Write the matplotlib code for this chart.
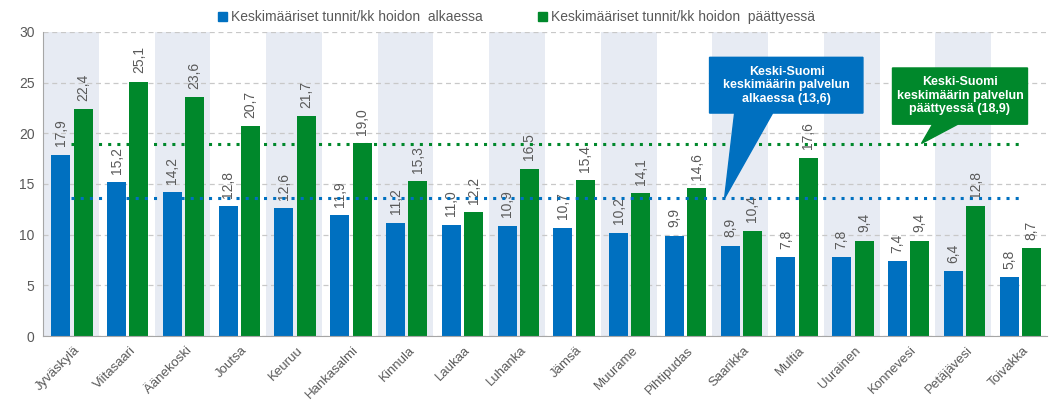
import matplotlib
matplotlib.use('Agg')
import matplotlib.pyplot as plt
import matplotlib.transforms as mtrans
from matplotlib.patches import Patch, Polygon
import numpy as np

plt.rcParams['font.family'] = ['Liberation Sans', 'DejaVu Sans']

kunnat = ['Jyväskylä', 'Viitasaari', 'Äänekoski', 'Joutsa', 'Keuruu', 'Hankasalmi',
          'Kinnula', 'Laukaa', 'Luhanka', 'Jämsä', 'Muurame', 'Pihtipudas',
          'Saarikka', 'Multia', 'Uurainen', 'Konnevesi', 'Petäjävesi', 'Toivakka']
alkaessa = [17.9, 15.2, 14.2, 12.8, 12.6, 11.9, 11.2, 11.0, 10.9, 10.7,
            10.2, 9.9, 8.9, 7.8, 7.8, 7.4, 6.4, 5.8]
paattyessa = [22.4, 25.1, 23.6, 20.7, 21.7, 19.0, 15.3, 12.2, 16.5, 15.4,
              14.1, 14.6, 10.4, 17.6, 9.4, 9.4, 12.8, 8.7]
ka_alku = 13.6
ka_loppu = 18.9

sininen = '#0070c0'
vihrea = '#00882b'
harmaa = '#595959'

fig = plt.figure(figsize=(10.5, 4.05), dpi=100)
ax = fig.add_axes([43 / 1050, 69 / 405, 1004 / 1050, 304 / 405])

x = np.arange(len(kunnat))
for i in x[::2]:
    ax.axvspan(i - 0.5, i + 0.5, color='#e7ebf3', zorder=0, lw=0)

w = 0.34
b1 = ax.bar(x - 0.18, alkaessa, w, color=sininen, zorder=2)
b2 = ax.bar(x + 0.22, paattyessa, w, color=vihrea, zorder=2)

for bars, vals in ((b1, alkaessa), (b2, paattyessa)):
    for r, v in zip(bars, vals):
        ax.annotate(f'{v:.1f}'.replace('.', ','), (r.get_x() + r.get_width() / 2, v),
                    xytext=(0, 6), textcoords='offset points', rotation=90,
                    ha='center', va='bottom', fontsize=10, color=harmaa, zorder=3)

# keskiarvoviivat
ax.plot([0, 17], [ka_alku, ka_alku], color=sininen, lw=2.2, ls=(0, (1, 2)), zorder=4)
ax.plot([0, 17], [ka_loppu, ka_loppu], color=vihrea, lw=2.2, ls=(0, (1, 2)), zorder=4)

# puhekuplat
kupla1 = [(11.45, 27.5), (14.2, 27.5), (14.2, 22.0), (12.58, 22.0), (11.72, ka_alku),
          (11.9, 22.0), (11.45, 22.0)]
ax.add_patch(Polygon(kupla1, closed=True, color=sininen, zorder=5, clip_on=False))
ax.text(12.83, 24.75, 'Keski-Suomi\nkeskimäärin palvelun\nalkaessa (13,6)',
        ha='center', va='center', color='white', fontsize=9, fontweight='bold',
        linespacing=1.15, zorder=6)

kupla2 = [(14.73, 26.45), (17.15, 26.45), (17.15, 20.9), (15.9, 20.9), (15.25, ka_loppu + 0.1),
          (15.45, 20.9), (14.73, 20.9)]
ax.add_patch(Polygon(kupla2, closed=True, color=vihrea, zorder=5, clip_on=False))
ax.text(15.94, 23.7, 'Keski-Suomi\nkeskimäärin palvelun\npäättyessä (18,9)',
        ha='center', va='center', color='white', fontsize=9, fontweight='bold',
        linespacing=1.15, zorder=6)

ax.set_xlim(-0.5, 17.5)
ax.set_ylim(0, 30)
ax.set_yticks(range(0, 31, 5))
ax.yaxis.grid(True, ls=(0, (4, 3)), color='#c8c8c8', lw=0.9, zorder=1)
ax.set_axisbelow(True)
ax.set_xticks(x)
ax.set_xticklabels(kunnat, rotation=45, ha='right', rotation_mode='anchor',
                   fontsize=9.5, color=harmaa)
ax.tick_params(axis='y', length=0, labelsize=10, colors=harmaa, pad=6)
ax.tick_params(axis='x', length=0, colors=harmaa, pad=6)
siirto = mtrans.ScaledTranslation(0.03, 0, fig.dpi_scale_trans)
for lbl in ax.get_xticklabels():
    lbl.set_transform(lbl.get_transform() + siirto)
for s in ('top', 'right'):
    ax.spines[s].set_visible(False)
for s in ('left', 'bottom'):
    ax.spines[s].set_color('#a6a6a6')

kahvat = [Patch(color=sininen), Patch(color=vihrea)]
fig.legend(kahvat, ['Keskimääriset tunnit/kk hoidon  alkaessa',
                    'Keskimääriset tunnit/kk hoidon  päättyessä'],
           loc='upper center', bbox_to_anchor=(0.492, 1.005), ncol=2, frameon=False,
           handlelength=0.6, handleheight=0.6, handletextpad=0.3, columnspacing=4,
           fontsize=10, labelcolor=harmaa)

fig.savefig('out.png', dpi=100)
